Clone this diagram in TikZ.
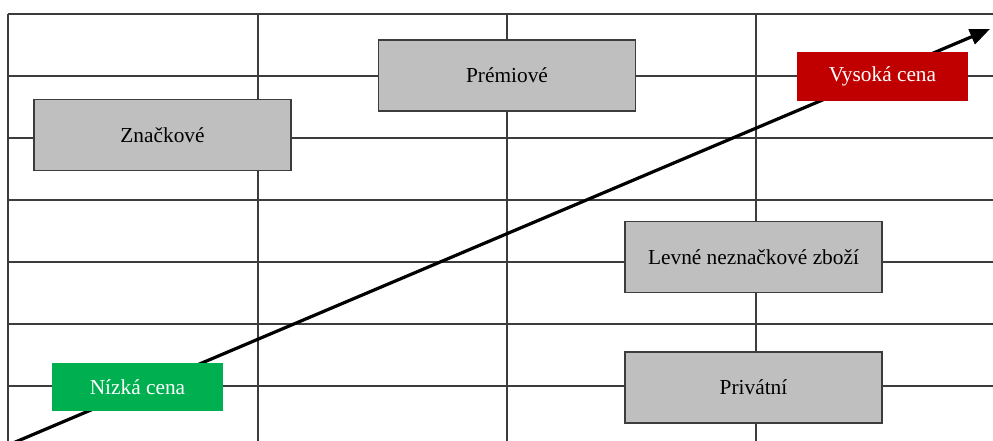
\documentclass[tikz,border=0pt]{standalone}
\usepackage{fontspec}
\setmainfont{Liberation Serif}
\usetikzlibrary{arrows.meta}

\definecolor{gridgray}{RGB}{60,60,60}
\definecolor{boxgray}{RGB}{191,191,191}
\definecolor{highred}{RGB}{192,0,0}
\definecolor{lowgreen}{RGB}{0,176,80}

\tikzset{every picture/.style={line width=0.75pt},
  gridline/.style={draw=gridgray, line width=1.1pt},
  segbox/.style={draw=gridgray, fill=boxgray, line width=1.2pt, minimum width=193pt, minimum height=53pt, inner sep=0pt, font=\fontsize{16}{19}\selectfont},
  pricebox/.style={fill=#1, text=white, minimum width=128pt, minimum height=36.5pt, inner sep=0pt, font=\fontsize{16}{19}\selectfont}
}

\begin{document}
\begin{tikzpicture}[x=0.75pt,y=0.75pt,yscale=-1,xscale=1]
\clip (0,0) rectangle (993,441);

% Grid
\foreach \gx in {8,258,507,756}
  \draw [gridline] (\gx,14) -- (\gx,460);
\foreach \gy in {14,76,138,200,262,324,386}
  \draw [gridline] (8,\gy) -- (1000,\gy);

% Price arrow
\coordinate (lowend) at (6,446);
\coordinate (highend) at (990,29);
\draw [line width=2.4pt, -{Triangle[length=15pt,width=12pt]}] (lowend) -- (highend);

% Segments
\node [segbox] (brand) at (162.5,135) {Značkové};
\node [segbox] (premium) at (507,75.5) {Prémiové};
\node [segbox] (cheap) at (753.5,257) {Levné neznačkové zboží};
\node [segbox] (private) at (753.5,387.5) {Privátní};

% Price labels
\node [pricebox=highred] (highprice) at (882.5,76.5) {Vysoká cena};
\node [pricebox=lowgreen] (lowprice) at (137.5,387) {Nízká cena};

\end{tikzpicture}
\end{document}
